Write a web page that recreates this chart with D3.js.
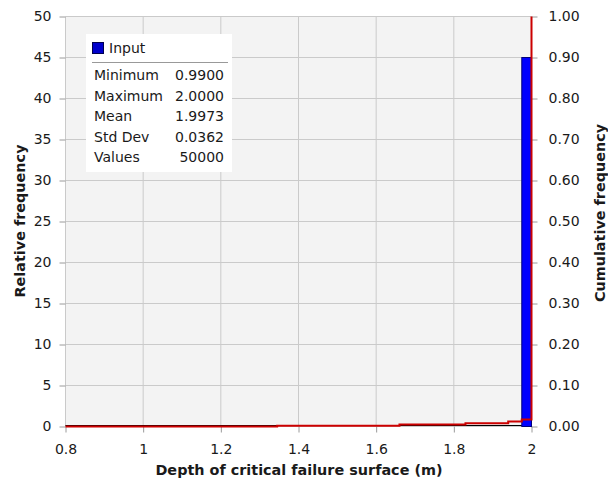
<!DOCTYPE html>
<html>
<head>
<meta charset="utf-8">
<script src="https://cdn.jsdelivr.net/npm/d3@7"></script>
<style>
  body { margin: 0; background: #fff; }
  text { font-family: "DejaVu Sans", sans-serif; fill: #1a1a1a; }
</style>
</head>
<body>
<div id="chart"></div>
<script>
// histogram bins (only one visible bar)
const binStart = [1.975];
const binEnd = [2.0];
const relFreq = [45];

// cumulative frequency steps
const cumX = [0.8, 1.345, 1.66, 1.83, 1.94, 1.975, 2.0];
const cumY = [0, 0.002, 0.005, 0.008, 0.012, 0.017, 1.0];

const xTicks = [0.8, 1, 1.2, 1.4, 1.6, 1.8, 2];
const yTicks = [0, 5, 10, 15, 20, 25, 30, 35, 40, 45, 50];
const y2Ticks = [0, 0.1, 0.2, 0.3, 0.4, 0.5, 0.6, 0.7, 0.8, 0.9, 1.0];

const statNames = ["Minimum", "Maximum", "Mean", "Std Dev", "Values"];
const statValues = ["0.9900", "2.0000", "1.9973", "0.0362", "50000"];

const width = 608, height = 480;
const margin = {top: 16, right: 77, bottom: 54, left: 65};

const svg = d3.select('#chart').append('svg')
    .attr('width', width)
    .attr('height', height);

const x = d3.scaleLinear().domain([0.8, 2]).range([margin.left + 0.5, width - margin.right + 0.5]);
const y = d3.scaleLinear().domain([0, 50]).range([height - margin.bottom + 0.5, margin.top + 0.5]);
const y2 = d3.scaleLinear().domain([0, 1]).range([height - margin.bottom + 0.5, margin.top + 0.5]);

// plot background
svg.append('rect')
    .attr('x', x(0.8)).attr('y', y(50))
    .attr('width', x(2) - x(0.8)).attr('height', y(0) - y(50))
    .attr('fill', '#f3f3f3');

// grid
svg.append('g').selectAll('line').data(yTicks).join('line')
    .attr('x1', x(0.8)).attr('x2', x(2))
    .attr('y1', d => y(d)).attr('y2', d => y(d))
    .attr('stroke', '#cacaca');
svg.append('g').selectAll('line').data(xTicks).join('line')
    .attr('x1', d => x(d)).attr('x2', d => x(d))
    .attr('y1', y(0)).attr('y2', y(50))
    .attr('stroke', '#cacaca');

// axes
const xAxis = svg.append('g')
    .attr('transform', `translate(0,${y(0)})`)
    .call(d3.axisBottom(x).tickValues(xTicks).tickSize(6).tickPadding(12).tickFormat(d3.format('')));
const yAxis = svg.append('g')
    .attr('transform', `translate(${x(0.8)},0)`)
    .call(d3.axisLeft(y).tickValues(yTicks).tickSize(6).tickPadding(8));
const y2Axis = svg.append('g')
    .attr('transform', `translate(${x(2)},0)`)
    .call(d3.axisRight(y2).tickValues(y2Ticks).tickSize(6).tickPadding(11).tickFormat(d3.format('.2f')));

[xAxis, yAxis, y2Axis].forEach(a => {
  a.select('.domain').remove();
  a.selectAll('line').attr('stroke', '#9a9a9a');
  a.selectAll('text').attr('font-size', 14).attr('font-family', '"DejaVu Sans", sans-serif').attr('fill', '#1a1a1a');
});

// baseline
svg.append('line')
    .attr('x1', x(0.8)).attr('x2', x(2))
    .attr('y1', y(0) - 1).attr('y2', y(0) - 1)
    .attr('stroke', '#000');

// bars
svg.append('g').selectAll('rect').data(relFreq).join('rect')
    .attr('x', (d, i) => x(binStart[i]))
    .attr('y', d => y(d))
    .attr('width', (d, i) => x(binEnd[i]) - x(binStart[i]))
    .attr('height', d => y(0) - y(d))
    .attr('fill', '#0000ff')
    .attr('stroke', '#00007a')
    .attr('stroke-width', 1);

// cumulative line
const cumLine = d3.line()
    .curve(d3.curveStepAfter)
    .x(d => x(d[0]))
    .y(d => y2(d[1]));
svg.append('path')
    .datum(cumX.map((v, i) => [v, cumY[i]]))
    .attr('fill', 'none')
    .attr('stroke', '#cc0000')
    .attr('stroke-width', 2)
    .attr('d', cumLine);

// axis titles
svg.append('text')
    .attr('x', 299).attr('y', 475)
    .attr('text-anchor', 'middle')
    .attr('font-size', 14.4).attr('font-weight', 'bold')
    .text('Depth of critical failure surface (m)');
svg.append('text')
    .attr('transform', 'translate(25,221) rotate(-90)')
    .attr('text-anchor', 'middle')
    .attr('font-size', 14.4).attr('font-weight', 'bold')
    .text('Relative frequency');
svg.append('text')
    .attr('transform', 'translate(605,213) rotate(-90)')
    .attr('text-anchor', 'middle')
    .attr('font-size', 14.4).attr('font-weight', 'bold')
    .text('Cumulative frequency');

// legend / stats box
const lg = svg.append('g').attr('transform', 'translate(86,34)');
lg.append('rect')
    .attr('width', 146).attr('height', 138)
    .attr('fill', '#fff');
lg.append('rect')
    .attr('x', 6.5).attr('y', 8.5).attr('width', 11).attr('height', 11)
    .attr('fill', '#0000cc').attr('stroke', '#000050');
lg.append('text')
    .attr('x', 23).attr('y', 19)
    .attr('font-size', 14)
    .text('Input');
lg.append('line')
    .attr('x1', 6).attr('x2', 142)
    .attr('y1', 28.5).attr('y2', 28.5)
    .attr('stroke', '#999');
lg.selectAll('text.name').data(statNames).join('text')
    .attr('class', 'name')
    .attr('x', 8)
    .attr('y', (d, i) => 46 + i * 20.6)
    .attr('font-size', 14)
    .text(d => d);
lg.selectAll('text.val').data(statValues).join('text')
    .attr('class', 'val')
    .attr('x', 138)
    .attr('y', (d, i) => 46 + i * 20.6)
    .attr('text-anchor', 'end')
    .attr('font-size', 14)
    .text(d => d);
</script>
</body>
</html>
